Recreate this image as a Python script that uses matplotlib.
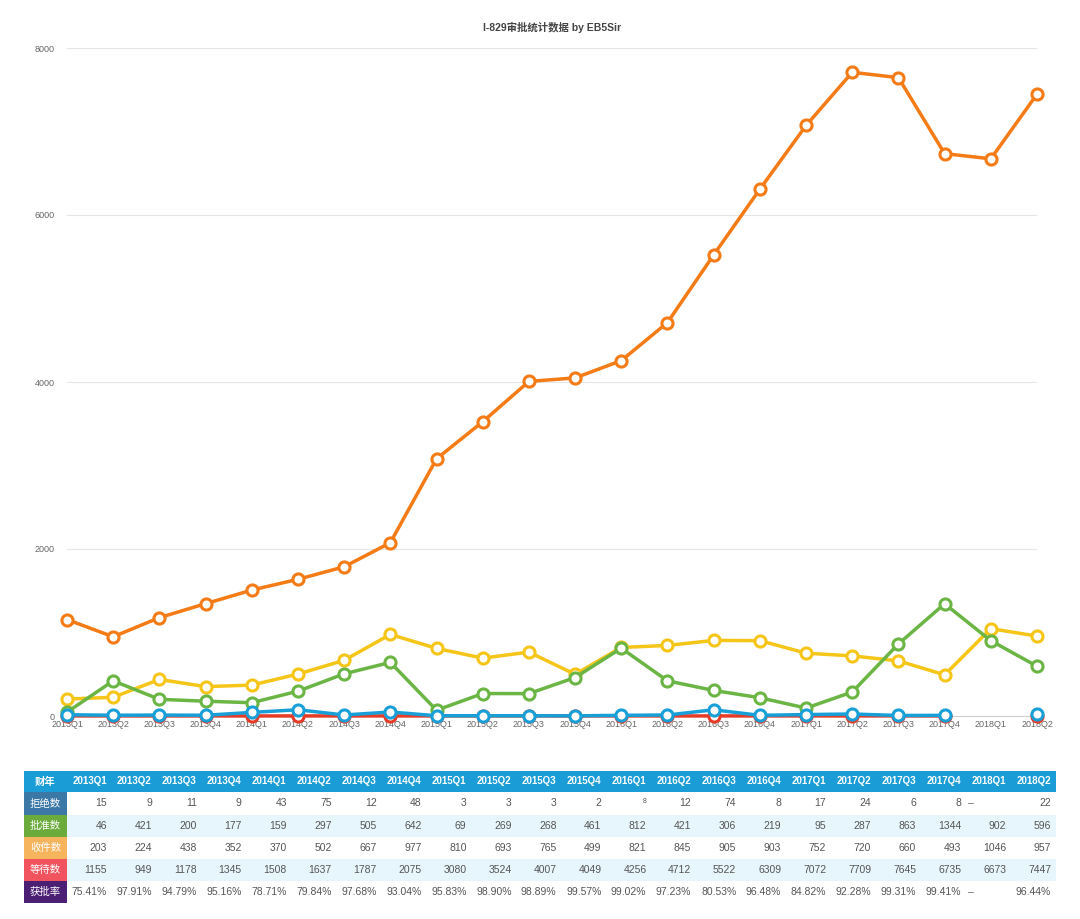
import matplotlib
matplotlib.use("Agg")
import matplotlib.pyplot as plt
import numpy as np

plt.rcParams['font.family'] = ['Liberation Sans', 'Noto Sans CJK SC', 'DejaVu Sans']

# --- data ---
quarters = ["2013Q1", "2013Q2", "2013Q3", "2013Q4", "2014Q1", "2014Q2", "2014Q3", "2014Q4",
            "2015Q1", "2015Q2", "2015Q3", "2015Q4", "2016Q1", "2016Q2", "2016Q3", "2016Q4",
            "2017Q1", "2017Q2", "2017Q3", "2017Q4", "2018Q1", "2018Q2"]
denied = [15, 9, 11, 9, 43, 75, 12, 48, 3, 3, 3, 2, 8, 12, 74, 8, 17, 24, 6, 8, None, 22]
approved = [46, 421, 200, 177, 159, 297, 505, 642, 69, 269, 268, 461, 812, 421, 306, 219,
            95, 287, 863, 1344, 902, 596]
received = [203, 224, 438, 352, 370, 502, 667, 977, 810, 693, 765, 499, 821, 845, 905, 903,
            752, 720, 660, 493, 1046, 957]
pending = [1155, 949, 1178, 1345, 1508, 1637, 1787, 2075, 3080, 3524, 4007, 4049, 4256, 4712,
           5522, 6309, 7072, 7709, 7645, 6735, 6673, 7447]
approval_rate = [75.41, 97.91, 94.79, 95.16, 78.71, 79.84, 97.68, 93.04, 95.83, 98.90, 98.89,
                 99.57, 99.02, 97.23, 80.53, 96.48, 84.82, 92.28, 99.31, 99.41, None, 96.44]
row_names = ["拒绝数", "批准数", "收件数", "等待数", "获批率"]
title = "I-829审批统计数据 by EB5Sir"


def arr(v):
    return np.array([np.nan if x is None else x for x in v], dtype=float)


fig = plt.figure(figsize=(10.8, 9.19), dpi=100)
W, H = 1080, 919

# --- line chart ---
ax = fig.add_axes([67 / W, 1 - 716 / H, (1037 - 67) / W, (716 - 48) / H])
x = np.arange(len(quarters))
mk = dict(marker='o', markersize=8, markerfacecolor='white', markeredgewidth=2.2,
          lw=2.5, clip_on=False)
ax.plot(x, arr(approval_rate) / 100, color='#e63c27', zorder=3, **mk)
ax.plot(x, arr(pending), color='#f47b16', zorder=4, **mk)
ax.plot(x, arr(received), color='#f5c518', zorder=5, **mk)
ax.plot(x, arr(approved), color='#6bb545', zorder=6, **mk)
ax.plot(x, arr(denied), color='#189fd8', zorder=7, **mk)

ax.set_xlim(0, len(quarters) - 1)
ax.set_ylim(0, 8000)
ax.set_yticks([0, 2000, 4000, 6000, 8000])
ax.set_xticks(x)
ax.set_xticklabels(quarters)
ax.tick_params(axis='both', length=0, labelsize=6.5, colors='#666666')
ax.tick_params(axis='x', pad=3)
ax.tick_params(axis='y', pad=9)
ax.grid(axis='y', color='#e6e6e6', lw=0.8)
ax.set_axisbelow(True)
for s in ['top', 'right', 'left']:
    ax.spines[s].set_visible(False)
ax.spines['bottom'].set_color('#d0d0d0')
ax.spines['bottom'].set_linewidth(0.8)
ax.set_title(title, fontsize=7.5, color='#444444', fontweight='bold', pad=12)

# --- table ---
tab_left, tab_right, tab_top = 24, 1056, 771
first_w = 43
col_w = (tab_right - tab_left - first_w) / len(quarters)
row_h = [21, 23, 22, 22, 22, 22]
tab_bottom = tab_top + sum(row_h)
tax = fig.add_axes([tab_left / W, 1 - tab_bottom / H, (tab_right - tab_left) / W,
                    (tab_bottom - tab_top) / H])
tax.set_xlim(0, tab_right - tab_left)
tax.set_ylim(tab_bottom - tab_top, 0)
tax.axis('off')

label_colors = ['#3b78a6', '#6aab3c', '#f6b45c', '#f2545f', '#4b2074']
row_bg = ['white', '#e7f5fc', 'white', '#e7f5fc', 'white']
header_bg = '#1a9dd6'

# header row
tax.add_patch(plt.Rectangle((0, 0), tab_right - tab_left, row_h[0], color=header_bg, lw=0))
tax.text(first_w / 2, row_h[0] / 2, "财年", color='white', fontsize=7.5, fontweight='bold',
         ha='center', va='center')
for j, q in enumerate(quarters):
    tax.text(first_w + col_w * (j + 0.5), row_h[0] / 2, q, color='white', fontsize=7,
             fontweight='bold', ha='center', va='center')

rows = [denied, approved, received, pending, approval_rate]
y0 = row_h[0]
for i, (name, vals) in enumerate(zip(row_names, rows)):
    h = row_h[i + 1]
    tax.add_patch(plt.Rectangle((first_w, y0), tab_right - tab_left - first_w, h,
                                color=row_bg[i], lw=0))
    tax.add_patch(plt.Rectangle((0, y0), first_w, h, color=label_colors[i], lw=0))
    tax.text(first_w / 2, y0 + h / 2, name, color='white', fontsize=7.5,
             ha='center', va='center')
    for j, v in enumerate(vals):
        xr = first_w + col_w * (j + 1) - 5
        if v is None:
            tax.text(first_w + col_w * j + 2, y0 + h / 2, "–", color='#666666', fontsize=7.5,
                     ha='left', va='center')
            continue
        s = f"{v:.2f}%" if i == 4 else str(v)
        fs = 7.5
        yy = y0 + h / 2
        if i == 0 and quarters[j] == "2016Q1":
            fs, yy = 5, yy - 2
        tax.text(xr, yy, s, color='#555555', fontsize=fs, ha='right', va='center')
    y0 += h

fig.savefig("out.png", dpi=100, facecolor='white')
